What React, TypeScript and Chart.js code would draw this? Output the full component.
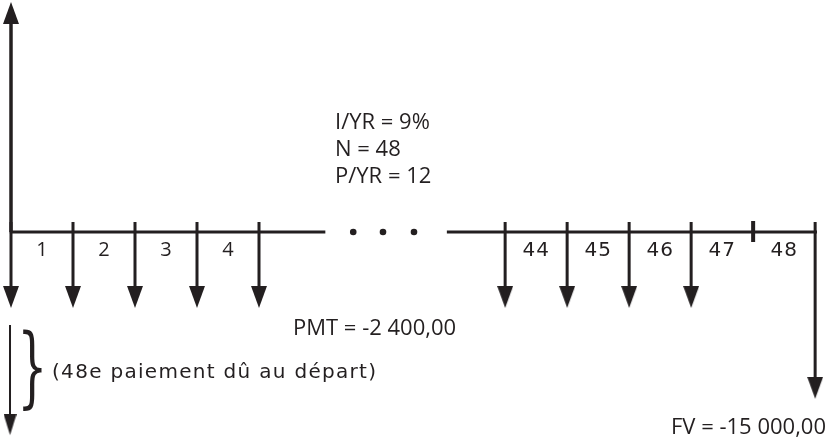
import React, { useEffect, useRef } from 'react';
import { Chart, registerables } from 'chart.js';

Chart.register(...registerables);

// ---------------- data ----------------
// payments (PMT) at the start of periods 1-4 and 44-47 (times 0..4, 43..46)
const paymentTimes = [0, 1, 2, 3, 4, 43, 44, 45, 46];
// period numbers written between the ticks
const periodNumbers = [1, 2, 3, 4, 44, 45, 46, 47, 48];
const periodLabels = ['1', '2', '3', '4', '44', '45', '46', '47', '48'];
const pvTime = 0;
const fvTime = 48;
const plainTickTimes = [47];
// schematic arrow heights (PV arrow = 1)
const pvArrow = 1.0;
const pmtArrow = -0.33;
const fvArrow = -0.725;
const noteArrowFrom = -0.404;
const noteArrowTo = -0.883;
const paramLines = ['I/YR = 9%', 'N = 48', 'P/YR = 12'];
const pmtText = 'PMT = -2 400,00';
const fvText = 'FV = -15 000,00';
const noteText = '(48e paiement dû au départ)';

// ---------------- layout ----------------
const INK = '#231f20';
const W = 829;
const H = 440;
const X0 = 11; // pixel of time 0
const UNIT = 62; // pixels per period
const BREAK_SHIFT = 35.03; // periods hidden by the "..." break
const slot = (t: number) => (t > 20 ? t - BREAK_SHIFT : t);
const X_MIN = -X0 / UNIT;
const X_MAX = (W - X0) / UNIT;
const AXIS_PX = 232;
const YUNIT = 230;
const Y_MAX = AXIS_PX / YUNIT;
const Y_MIN = -(H - AXIS_PX) / YUNIT;
const TICK_UP = 10 / YUNIT;
const HEAD_INSET = 12 / YUNIT;
const timelineSegments = [
  [-0.02, 5.07],
  [7.03, 13.0],
];
const ellipsisSlots = [5.52, 6.0, 6.5];

function makeHead(w: number, h: number) {
  const c = document.createElement('canvas');
  c.width = w;
  c.height = h * 2;
  const g = c.getContext('2d')!;
  g.fillStyle = INK;
  g.beginPath();
  g.moveTo(0, 0);
  g.lineTo(w, 0);
  g.lineTo(w / 2, h);
  g.closePath();
  g.fill();
  return c;
}

function lineDs(points: { x: number; y: number }[], width: number) {
  return {
    type: 'scatter' as const,
    data: points,
    showLine: true,
    borderColor: INK,
    backgroundColor: INK,
    borderWidth: width,
    pointRadius: 0,
    clip: false as any,
  };
}

const textPlugin = {
  id: 'diagramText',
  afterDatasetsDraw(chart: any) {
    const { ctx } = chart;
    const x = chart.scales.x;
    const y = chart.scales.y;
    const axisY = y.getPixelForValue(0);
    ctx.save();
    ctx.fillStyle = INK;
    ctx.textBaseline = 'alphabetic';

    // period numbers
    periodNumbers.forEach((n, i) => {
      const px = x.getPixelForValue(slot(n - 0.5));
      ctx.textAlign = 'center';
      if (n < 20) {
        ctx.font = '20px "Open Sans"';
        (ctx as any).letterSpacing = '0px';
      } else {
        ctx.font = '20px "DejaVu Sans"';
        (ctx as any).letterSpacing = '1px';
      }
      ctx.fillText(periodLabels[i], px, axisY + 24);
    });
    (ctx as any).letterSpacing = '0px';

    // parameters
    ctx.textAlign = 'left';
    ctx.font = '22px "Open Sans"';
    paramLines.forEach((s, i) => ctx.fillText(s, 335, 129 + i * 27));

    // PMT label
    ctx.fillText(pmtText, 293, 335);

    // FV label
    ctx.textAlign = 'right';
    ctx.fillText(fvText, 826, 434);

    // brace
    ctx.textAlign = 'left';
    ctx.font = '100px "DejaVu Serif"';
    const m = ctx.measureText('}');
    const inkW = m.actualBoundingBoxLeft + m.actualBoundingBoxRight;
    const inkH = m.actualBoundingBoxAscent + m.actualBoundingBoxDescent;
    ctx.save();
    ctx.translate(23, 330);
    ctx.scale(19 / inkW, 81 / inkH);
    ctx.fillText('}', m.actualBoundingBoxLeft, m.actualBoundingBoxAscent);
    ctx.restore();

    // note
    ctx.font = '20px "DejaVu Sans"';
    (ctx as any).letterSpacing = '1.3px';
    ctx.fillText(noteText, 52, 378);
    (ctx as any).letterSpacing = '0px';
    ctx.restore();
  },
};

export default function App() {
  const ref = useRef<HTMLCanvasElement>(null);
  useEffect(() => {
    const canvas = ref.current!;
    const head = makeHead(16, 22);
    const smallHead = makeHead(13, 21);
    const datasets: any[] = [];

    // timeline
    timelineSegments.forEach(([a, b]) =>
      datasets.push(lineDs([{ x: a, y: 0 }, { x: b, y: 0 }], 3))
    );
    // ellipsis
    datasets.push({
      type: 'scatter',
      data: ellipsisSlots.map((s) => ({ x: s, y: 0 })),
      pointRadius: 3.3,
      pointBackgroundColor: INK,
      pointBorderWidth: 0,
      clip: false,
    });
    // PV arrow (up)
    datasets.push(lineDs([{ x: slot(pvTime), y: 0 }, { x: slot(pvTime), y: pvArrow - HEAD_INSET }], 3.5));
    // PMT arrows
    paymentTimes.forEach((t) =>
      datasets.push(lineDs([{ x: slot(t), y: TICK_UP }, { x: slot(t), y: pmtArrow + HEAD_INSET }], 3))
    );
    // plain tick (48th period already paid)
    plainTickTimes.forEach((t) =>
      datasets.push(lineDs([{ x: slot(t), y: TICK_UP * 1.1 }, { x: slot(t), y: -TICK_UP }], 4))
    );
    // FV arrow
    datasets.push(lineDs([{ x: slot(fvTime), y: TICK_UP }, { x: slot(fvTime), y: fvArrow + HEAD_INSET }], 3));
    // note arrow
    datasets.push(lineDs([{ x: slot(pvTime) - 0.016, y: noteArrowFrom }, { x: slot(pvTime) - 0.016, y: noteArrowTo + HEAD_INSET }], 2));

    // arrow heads
    const heads = [
      { x: slot(pvTime), y: pvArrow, r: 180 },
      ...paymentTimes.map((t) => ({ x: slot(t), y: pmtArrow, r: 0 })),
      { x: slot(fvTime), y: fvArrow, r: 0 },
    ];
    datasets.push({
      type: 'scatter',
      data: heads.map((h) => ({ x: h.x, y: h.y })),
      pointStyle: head,
      pointRadius: 5,
      pointRotation: heads.map((h) => h.r),
      clip: false,
    });
    datasets.push({
      type: 'scatter',
      data: [{ x: slot(pvTime) - 0.016, y: noteArrowTo }],
      pointStyle: smallHead,
      pointRadius: 5,
      clip: false,
    });

    const chart = new Chart(canvas, {
      type: 'scatter',
      data: { datasets },
      options: {
        animation: false,
        responsive: false,
        events: [],
        layout: { padding: 0, autoPadding: false },
        plugins: { legend: { display: false }, tooltip: { enabled: false } },
        scales: {
          x: { type: 'linear', display: false, min: X_MIN, max: X_MAX },
          y: { type: 'linear', display: false, min: Y_MIN, max: Y_MAX },
        },
      },
      plugins: [textPlugin],
    } as any);
    return () => chart.destroy();
  }, []);

  return (
    <div style={{ position: 'fixed', left: 0, top: 0, width: W, height: H, background: '#fff' }}>
      <canvas ref={ref} width={W} height={H} style={{ display: 'block', width: W, height: H }} />
    </div>
  );
}
